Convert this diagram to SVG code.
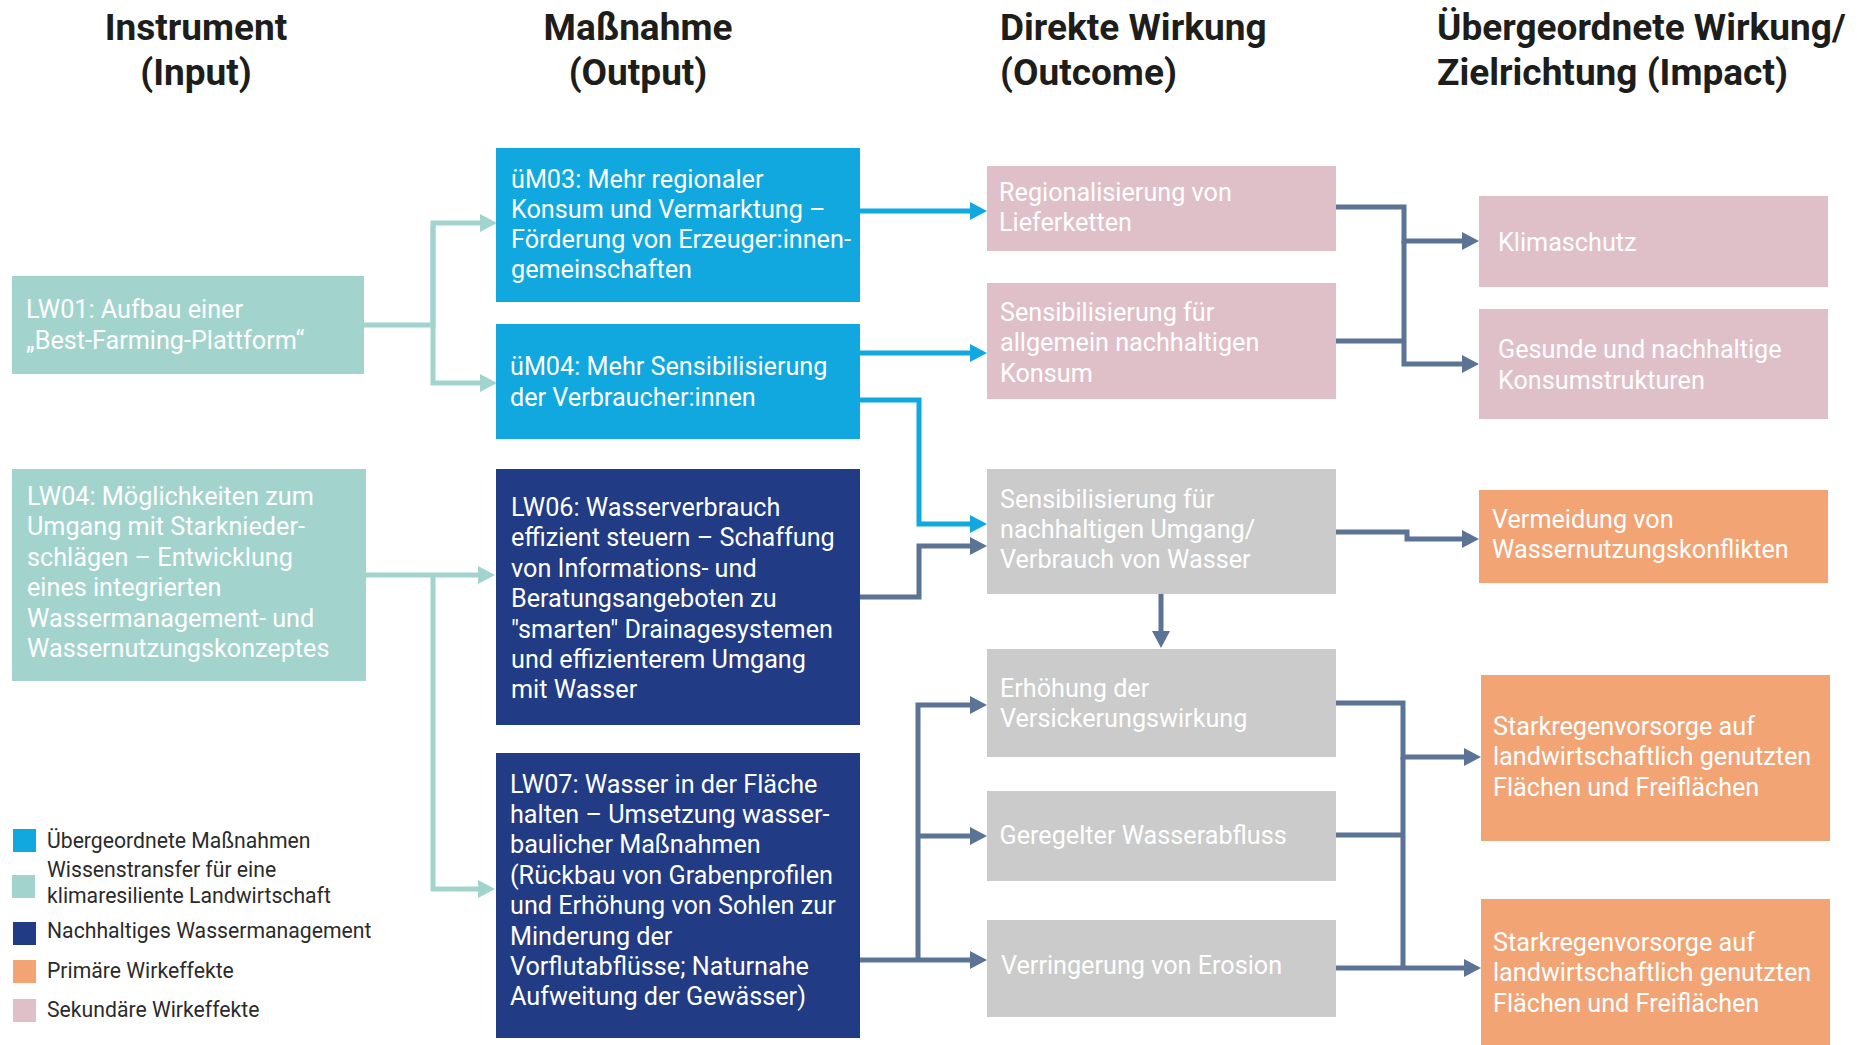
<svg xmlns="http://www.w3.org/2000/svg" width="1861" height="1045" viewBox="0 0 1861 1045">
<defs>
<style>
.h{font-family:Roboto,"Liberation Sans",sans-serif;font-weight:700;font-size:37px;fill:#1d1d1b}
.t{font-family:Roboto,"Liberation Sans",sans-serif;font-weight:400;font-size:25.2px;fill:#ffffff}
.lg{font-family:Roboto,"Liberation Sans",sans-serif;font-weight:400;font-size:21.2px;fill:#2b2b2b}
.teal{fill:#A2D4CD}.cyan{fill:#11A8E0}.navy{fill:#213B85}.pink{fill:#DFC0C9}.grey{fill:#CBCBCB}.orange{fill:#F2A475}
.c{fill:none;stroke-width:5;stroke-linejoin:miter}
.ct{stroke:#A2D4CD}.cc{stroke:#11A8E0}.cd{stroke:#5B7394}
</style>
<marker id="aT" markerUnits="userSpaceOnUse" markerWidth="18" markerHeight="18" refX="1" refY="9" orient="auto" overflow="visible"><path d="M0,0 L17,9 L0,18 z" fill="#A2D4CD"/></marker>
<marker id="aC" markerUnits="userSpaceOnUse" markerWidth="18" markerHeight="18" refX="1" refY="9" orient="auto" overflow="visible"><path d="M0,0 L17,9 L0,18 z" fill="#11A8E0"/></marker>
<marker id="aD" markerUnits="userSpaceOnUse" markerWidth="18" markerHeight="18" refX="1" refY="9" orient="auto" overflow="visible"><path d="M0,0 L17,9 L0,18 z" fill="#5B7394"/></marker>
</defs>
<rect width="1861" height="1045" fill="#ffffff"/>

<g id="headers">
<text class="h" x="196" y="40" text-anchor="middle">Instrument</text>
<text class="h" x="196" y="85" text-anchor="middle">(Input)</text>
<text class="h" x="638" y="40" text-anchor="middle">Maßnahme</text>
<text class="h" x="638" y="85" text-anchor="middle">(Output)</text>
<text class="h" x="1000" y="40">Direkte Wirkung</text>
<text class="h" x="1000" y="85">(Outcome)</text>
<text class="h" x="1437" y="40">Übergeordnete Wirkung/</text>
<text class="h" x="1437" y="85">Zielrichtung (Impact)</text>
</g>

<g id="connectors">
<path class="c ct" d="M364 325 H433 V223 H481" marker-end="url(#aT)"/>
<path class="c ct" d="M433 225 V383 H481" marker-end="url(#aT)"/>
<path class="c ct" d="M366 575 H479" marker-end="url(#aT)"/>
<path class="c ct" d="M433 575 V889 H479" marker-end="url(#aT)"/>
<path class="c cc" d="M860 211 H971" marker-end="url(#aC)"/>
<path class="c cc" d="M860 353 H971" marker-end="url(#aC)"/>
<path class="c cc" d="M860 400 H919 V524 H971" marker-end="url(#aC)"/>
<path class="c cd" d="M860 597 H919 V546 H971" marker-end="url(#aD)"/>
<path class="c cd" d="M1161 594 V632" marker-end="url(#aD)"/>
<path class="c cd" d="M860 960 H971" marker-end="url(#aD)"/>
<path class="c cd" d="M918 960 V705 H971" marker-end="url(#aD)"/>
<path class="c cd" d="M918 836 H971" marker-end="url(#aD)"/>
<path class="c cd" d="M1336 207 H1404 V241 H1463" marker-end="url(#aD)"/>
<path class="c cd" d="M1404 241 V364 H1463" marker-end="url(#aD)"/>
<path class="c cd" d="M1336 341 H1404"/>
<path class="c cd" d="M1336 532 H1407 V539 H1463" marker-end="url(#aD)"/>
<path class="c cd" d="M1336 703 H1403 V757 H1465" marker-end="url(#aD)"/>
<path class="c cd" d="M1403 757 V968"/>
<path class="c cd" d="M1336 835 H1403"/>
<path class="c cd" d="M1336 968 H1465" marker-end="url(#aD)"/>
</g>

<g id="LW01">
<rect class="teal" x="12" y="276" width="352" height="98"/>
<text class="t" x="26" y="318">LW01: Aufbau einer</text>
<text class="t" x="26" y="348.5">„Best-Farming-Plattform“</text>
</g>

<g id="LW04">
<rect class="teal" x="12" y="469" width="354" height="212"/>
<text class="t" x="27" y="505">LW04: Möglichkeiten zum</text>
<text class="t" x="27" y="535.4">Umgang mit Starknieder-</text>
<text class="t" x="27" y="565.8">schlägen – Entwicklung</text>
<text class="t" x="27" y="596.2">eines integrierten</text>
<text class="t" x="27" y="626.6">Wassermanagement- und</text>
<text class="t" x="27" y="657">Wassernutzungskonzeptes</text>
</g>

<g id="uM03">
<rect class="cyan" x="496" y="148" width="364" height="154"/>
<text class="t" x="511" y="187.5">üM03: Mehr regionaler</text>
<text class="t" x="511" y="217.8">Konsum und Vermarktung –</text>
<text class="t" x="511" y="248.1">Förderung von Erzeuger:innen-</text>
<text class="t" x="511" y="278.4">gemeinschaften</text>
</g>

<g id="uM04">
<rect class="cyan" x="496" y="324" width="364" height="115"/>
<text class="t" x="510" y="375">üM04: Mehr Sensibilisierung</text>
<text class="t" x="510" y="405.5">der Verbraucher:innen</text>
</g>

<g id="LW06">
<rect class="navy" x="496" y="469" width="364" height="256"/>
<text class="t" x="511" y="516">LW06: Wasserverbrauch</text>
<text class="t" x="511" y="546.4">effizient steuern – Schaffung</text>
<text class="t" x="511" y="576.8">von Informations- und</text>
<text class="t" x="511" y="607.2">Beratungsangeboten zu</text>
<text class="t" x="511" y="637.6">"smarten" Drainagesystemen</text>
<text class="t" x="511" y="668">und effizienterem Umgang</text>
<text class="t" x="511" y="698.4">mit Wasser</text>
</g>

<g id="LW07">
<rect class="navy" x="496" y="753" width="364" height="285"/>
<text class="t" x="510" y="792.5">LW07: Wasser in der Fläche</text>
<text class="t" x="510" y="822.9">halten – Umsetzung wasser-</text>
<text class="t" x="510" y="853.3">baulicher Maßnahmen</text>
<text class="t" x="510" y="883.7">(Rückbau von Grabenprofilen</text>
<text class="t" x="510" y="914.1">und Erhöhung von Sohlen zur</text>
<text class="t" x="510" y="944.5">Minderung der</text>
<text class="t" x="510" y="974.9">Vorflutabflüsse; Naturnahe</text>
<text class="t" x="510" y="1005.3">Aufweitung der Gewässer)</text>
</g>

<g id="regionalisierung">
<rect class="pink" x="987" y="166" width="349" height="85"/>
<text class="t" x="999" y="200.7">Regionalisierung von</text>
<text class="t" x="999" y="231">Lieferketten</text>
</g>

<g id="sensib-konsum">
<rect class="pink" x="987" y="283" width="349" height="116"/>
<text class="t" x="1000" y="321">Sensibilisierung für</text>
<text class="t" x="1000" y="351.3">allgemein nachhaltigen</text>
<text class="t" x="1000" y="381.6">Konsum</text>
</g>

<g id="sensib-wasser">
<rect class="grey" x="987" y="469" width="349" height="125"/>
<text class="t" x="1000" y="507.5">Sensibilisierung für</text>
<text class="t" x="1000" y="537.8">nachhaltigen Umgang/</text>
<text class="t" x="1000" y="568.1">Verbrauch von Wasser</text>
</g>

<g id="versickerung">
<rect class="grey" x="987" y="649" width="349" height="108"/>
<text class="t" x="1000" y="696.5">Erhöhung der</text>
<text class="t" x="1000" y="726.8">Versickerungswirkung</text>
</g>

<g id="wasserabfluss">
<rect class="grey" x="987" y="791" width="349" height="90"/>
<text class="t" x="999.5" y="844">Geregelter Wasserabfluss</text>
</g>

<g id="erosion">
<rect class="grey" x="987" y="920" width="349" height="97"/>
<text class="t" x="1001" y="973.5">Verringerung von Erosion</text>
</g>

<g id="klimaschutz">
<rect class="pink" x="1479" y="196" width="349" height="91"/>
<text class="t" x="1498" y="250.5">Klimaschutz</text>
</g>

<g id="konsumstrukturen">
<rect class="pink" x="1479" y="309" width="349" height="110"/>
<text class="t" x="1498" y="358.3">Gesunde und nachhaltige</text>
<text class="t" x="1498" y="388.6">Konsumstrukturen</text>
</g>

<g id="vermeidung">
<rect class="orange" x="1479" y="490" width="349" height="93"/>
<text class="t" x="1492" y="528">Vermeidung von</text>
<text class="t" x="1492" y="558.3">Wassernutzungskonflikten</text>
</g>

<g id="starkregen1">
<rect class="orange" x="1481" y="675" width="349" height="166"/>
<text class="t" x="1493" y="735">Starkregenvorsorge auf</text>
<text class="t" x="1493" y="765.4">landwirtschaftlich genutzten</text>
<text class="t" x="1493" y="795.8">Flächen und Freiflächen</text>
</g>

<g id="starkregen2">
<rect class="orange" x="1481" y="899" width="349" height="146"/>
<text class="t" x="1493" y="951">Starkregenvorsorge auf</text>
<text class="t" x="1493" y="981.4">landwirtschaftlich genutzten</text>
<text class="t" x="1493" y="1011.8">Flächen und Freiflächen</text>
</g>

<g id="legend">
<rect class="cyan" x="13" y="829" width="23" height="23"/>
<text class="lg" x="47" y="848">Übergeordnete Maßnahmen</text>
<rect class="teal" x="12" y="875" width="23" height="23"/>
<text class="lg" x="47" y="877">Wissenstransfer für eine</text>
<text class="lg" x="47" y="903">klimaresiliente Landwirtschaft</text>
<rect class="navy" x="13" y="922" width="23" height="23"/>
<text class="lg" x="47" y="938">Nachhaltiges Wassermanagement</text>
<rect class="orange" x="13" y="960" width="23" height="23"/>
<text class="lg" x="47" y="978">Primäre Wirkeffekte</text>
<rect class="pink" x="13" y="999" width="23" height="23"/>
<text class="lg" x="47" y="1017">Sekundäre Wirkeffekte</text>
</g>
</svg>
